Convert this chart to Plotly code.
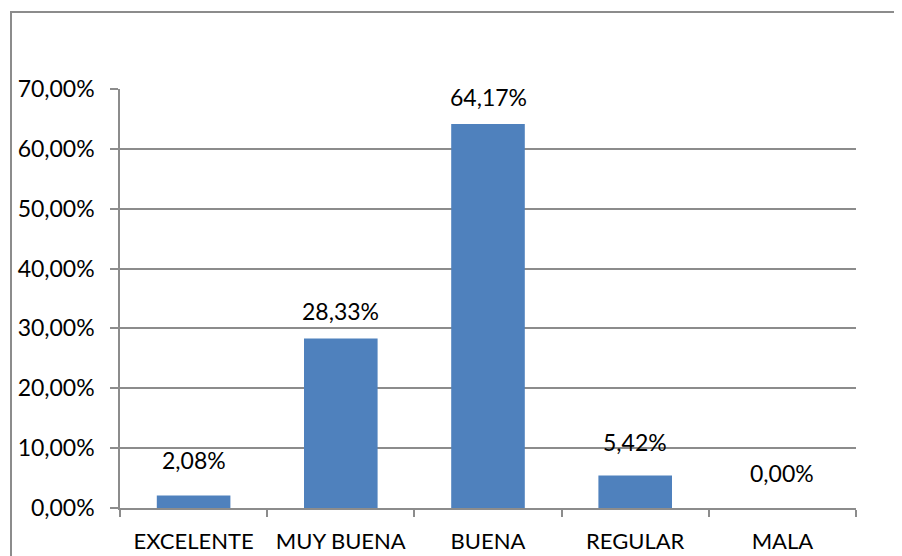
import plotly.graph_objects as go

categories = ["EXCELENTE", "MUY BUENA", "BUENA", "REGULAR", "MALA"]
values = [2.08, 28.33, 64.17, 5.42, 0.00]
y_tick_values = [0, 10, 20, 30, 40, 50, 60, 70]
y_tick_labels = ["0,00%", "10,00%", "20,00%", "30,00%", "40,00%", "50,00%", "60,00%", "70,00%"]
value_labels = ["2,08%", "28,33%", "64,17%", "5,42%", "0,00%"]

# page body adds an 8px offset, so the figure is laid out 8px up/left
OFF = 8
W, H = 902, 556
ml, mt = 120 - OFF, 89 - OFF
mr = W - (856 - OFF)
mb = H - (508 - OFF)
FONT = "Lato"
GRID = "#8c8c8c"

fig = go.Figure()
fig.add_trace(go.Bar(
    x=categories, y=values, width=0.5,
    marker=dict(color="#4f81bd", line=dict(width=0)),
    hoverinfo="skip",
))

label_shift = [36, 27, 27, 34, 35]
for c, v, t, s in zip(categories, values, value_labels, label_shift):
    fig.add_annotation(x=c, y=v, text=t, showarrow=False, yshift=s,
                       yanchor="middle", xanchor="center",
                       font=dict(family=FONT, size=23, color="#000000"))

pw = W - ml - mr
ph = H - mt - mb
fig.add_shape(type="rect", xref="paper", yref="paper",
              x0=(11 - OFF - ml) / pw, x1=(W + 20 - ml) / pw,
              y0=(H - mb - (H + 20)) / ph, y1=(H - mb - (12 - OFF)) / ph,
              line=dict(color=GRID, width=2), fillcolor="rgba(0,0,0,0)", layer="below")

fig.update_layout(
    width=W, height=H,
    margin=dict(l=ml, r=mr, t=mt, b=mb, pad=0, autoexpand=False),
    plot_bgcolor="white", paper_bgcolor="white",
    showlegend=False,
    font=dict(family=FONT, size=23, color="#000000"),
    bargap=0.5,
)
fig.update_yaxes(
    range=[0, 70], tickmode="array", tickvals=y_tick_values, ticktext=y_tick_labels,
    showgrid=True, gridcolor=GRID, gridwidth=1.5,
    showline=True, linecolor=GRID, linewidth=1.5,
    ticks="outside", ticklen=8, tickcolor=GRID, tickwidth=1.5,
    ticklabelstandoff=11, zeroline=False, fixedrange=True, automargin=False,
)
fig.update_xaxes(
    showline=True, linecolor=GRID, linewidth=1.5,
    ticks="outside", tickson="boundaries", ticklen=7, tickcolor=GRID, tickwidth=1.5,
    showgrid=False, ticklabelstandoff=13, fixedrange=True, automargin=False,
    tickfont=dict(family=FONT, size=22),
)

fig.write_html("out.html", config={"displayModeBar": False})
